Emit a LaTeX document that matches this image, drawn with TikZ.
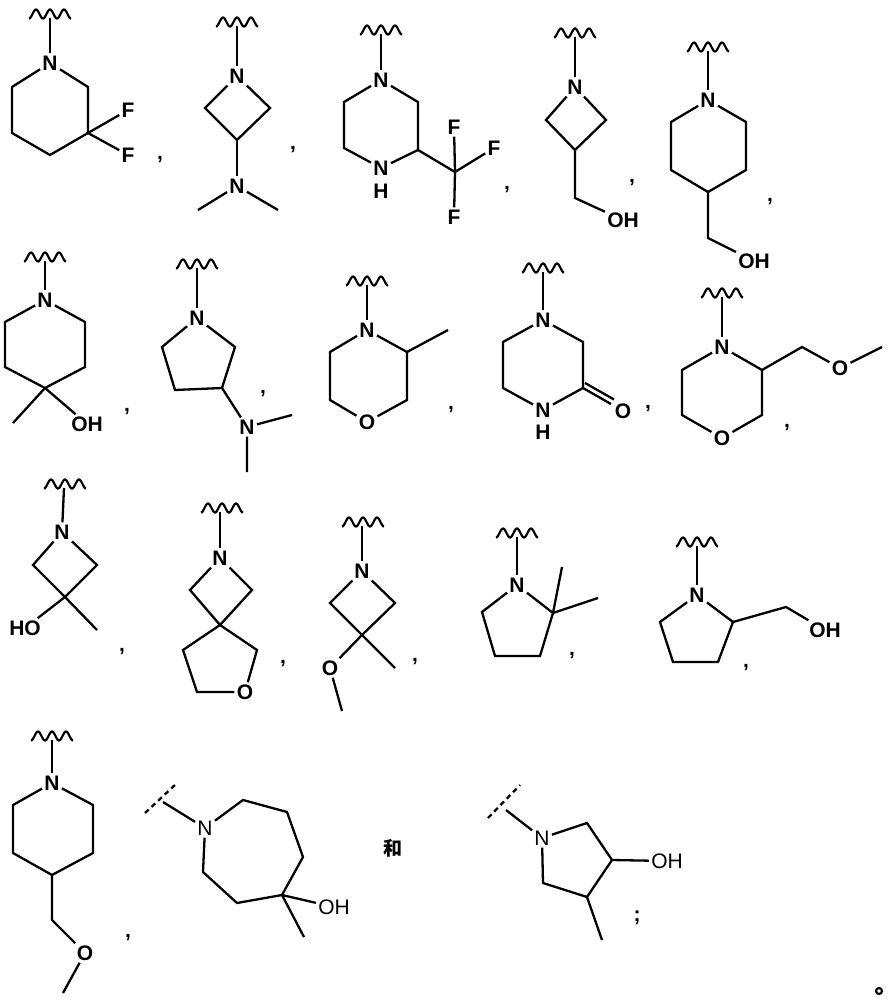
\documentclass[tikz,border=0pt]{standalone}
\usepackage{fontspec}
\setmainfont{Liberation Sans}
\newfontfamily\cjk{Noto Sans CJK SC}
\begin{document}
\begin{tikzpicture}[x=1pt,y=-1pt,line width=2.3pt,
  atom/.style={font=\bfseries\fontsize{21}{21}\selectfont,inner sep=1.2pt},
  latom/.style={font=\fontsize{21}{21}\selectfont,inner sep=1.2pt},
  punct/.style={font=\bfseries\fontsize{21}{21}\selectfont,inner sep=0pt},
  cut/.style={dashed,dash pattern=on 5pt off 4pt,line width=2.3pt}]
\useasboundingbox (0,0) rectangle (888,1000);
\newcommand\wv[2]{\draw[line width=2.2pt,shift={(#1,#2)}] plot[domain=-21:21,samples=60,smooth] (\x,{-4.5*cos(\x*360/14)});}
% ---------- 1
\wv{50}{14}
\node[atom] (a1) at (50,63) {N};
\draw (50,18) -- (a1);
\node[atom] (a1f1) at (128,110) {F};
\node[atom] (a1f2) at (128,155) {F};
\draw (a1) -- (88,87) -- (88,133) -- (50,155) -- (12,133) -- (12,87) -- (a1);
\draw (a1f1) -- (88,133) -- (a1f2);
\node[punct] (c1) at (160,160) {,};
% ---------- 2
\wv{237}{22}
\node[atom] (a2) at (237,76) {N};
\node[atom] (a2n) at (237,186) {N};
\draw (237,26) -- (a2);
\draw (a2) -- (270,108) -- (237,140) -- (205,108) -- (a2);
\draw (237,140) -- (a2n);
\draw (198,210) -- (a2n) -- (278,210);
\node[punct] (c2) at (293,150) {,};
% ---------- 3
\wv{381}{30}
\node[atom] (a3) at (381,80) {N};
\node[atom] (a3n) at (381,168) {N};
\node[atom] (a3h) at (381,191) {H};
\node[atom] (a3f1) at (454,127) {F};
\node[atom] (a3f2) at (494,148) {F};
\node[atom] (a3f3) at (454,217) {F};
\draw (381,34) -- (a3);
\draw (a3) -- (418,102) -- (418,150) -- (a3n) -- (344,148) -- (344,102) -- (a3);
\draw (418,150) -- (455,172);
\draw (a3f1) -- (455,172) -- (a3f2);
\draw (455,172) -- (a3f3);
\node[punct] (c3) at (507,190) {,};
% ---------- 4
\wv{575}{33}
\node[atom] (a4) at (575,87) {N};
\node[atom] (a4o) at (623,220) {OH};
\draw (575,37) -- (a4);
\draw (a4) -- (606,120) -- (575,150) -- (546,120) -- (a4);
\draw (575,150) -- (575,198) -- (a4o);
\node[punct] (c4) at (632,183) {,};
% ---------- 5
\wv{708}{47}
\node[atom] (a5) at (708,100) {N};
\node[atom] (a5o) at (754,261) {OH};
\draw (708,51) -- (a5);
\draw (a5) -- (746,122) -- (746,170) -- (708,192) -- (671,170) -- (671,122) -- (a5);
\draw (708,192) -- (708,238) -- (a5o);
\node[punct] (c5) at (770,202) {,};
% ---------- 6
\wv{45}{257}
\node[atom] (a6) at (45,300) {N};
\node[atom] (a6o) at (87,424) {OH};
\draw (45,261) -- (a6);
\draw (a6) -- (85,322) -- (85,367) -- (45,388) -- (5,367) -- (5,322) -- (a6);
\draw (45,388) -- (13,423);
\draw (45,388) -- (a6o);
\node[punct] (c6) at (127,412) {,};
% ---------- 7
\wv{197}{264}
\node[atom] (a7) at (197,318) {N};
\node[atom] (a7n) at (247,427) {N};
\draw (197,268) -- (a7);
\draw (a7) -- (235,347) -- (222,388) -- (175,390) -- (162,347) -- (a7);
\draw (222,388) -- (a7n);
\draw (292,415) -- (a7n) -- (247,472);
\node[punct] (c7) at (263,394) {,};
% ---------- 8
\wv{367}{281}
\node[atom] (a8) at (367,330) {N};
\node[atom] (a8o) at (367,422) {O};
\draw (367,285) -- (a8);
\draw (a8) -- (407,352) -- (407,400) -- (a8o) -- (330,400) -- (330,352) -- (a8);
\draw (407,352) -- (448,330);
\node[punct] (c8) at (451,410) {,};
% ---------- 9
\wv{543}{268}
\node[atom] (a9) at (543,320) {N};
\node[atom] (a9n) at (543,410) {N};
\node[atom] (a9h) at (543,432) {H};
\node[atom] (a9o) at (623,411) {O};
\draw (543,272) -- (a9);
\draw (a9) -- (583,342) -- (583,388) -- (a9n) -- (503,388) -- (503,342) -- (a9);
\draw (583,388) -- (611,404);
\draw (585,383) -- (614,399.5);
\node[punct] (c9) at (648,409) {,};
% ---------- 10
\wv{722}{293}
\node[atom] (a10) at (722,347) {N};
\node[atom] (a10o) at (722,438) {O};
\node[atom] (a10m) at (840,368) {O};
\draw (722,297) -- (a10);
\draw (a10) -- (762,370) -- (762,415) -- (a10o) -- (682,415) -- (682,370) -- (a10);
\draw (762,370) -- (802,347) -- (a10m) -- (882,347);
\node[punct] (c10) at (787,428) {,};
% ---------- 11
\wv{65}{484}
\node[atom] (a11) at (62,532) {N};
\node[atom] (a11o) at (25,628) {HO};
\draw (64,488) -- (a11);
\draw (a11) -- (97,565) -- (65,597) -- (33,565) -- (a11);
\draw (65,597) -- (97,630);
\draw (65,597) -- (a11o);
\node[punct] (c11) at (122,652) {,};
% ---------- 12
\wv{222}{508}
\node[atom] (a12) at (220,558) {N};
\node[atom] (a12o) at (245,692) {O};
\draw (220,512) -- (a12);
\draw (a12) -- (252,590) -- (220,625) -- (190,590) -- (a12);
\draw (220,625) -- (257,650) -- (a12o) -- (197,692) -- (183,650) -- (220,625);
\node[punct] (c12) at (283,664) {,};
% ---------- 13
\wv{363}{522}
\node[atom] (a13) at (362,571) {N};
\node[atom] (a13o) at (330,668) {O};
\draw (362,526) -- (a13);
\draw (a13) -- (395,603) -- (362,635) -- (330,603) -- (a13);
\draw (362,635) -- (395,668);
\draw (362,635) -- (a13o) -- (342,711);
\node[punct] (c13) at (415,662) {,};
% ---------- 14
\wv{517}{533}
\node[atom] (a14) at (517,585) {N};
\draw (517,537) -- (a14);
\draw (a14) -- (553,613) -- (540,656) -- (495,656) -- (482,612) -- (a14);
\draw (553,613) -- (562,567);
\draw (553,613) -- (598,598);
\node[punct] (c14) at (572,656) {,};
% ---------- 15
\wv{697}{542}
\node[atom] (a15) at (697,595) {N};
\node[atom] (a15o) at (825,630) {OH};
\draw (697,546) -- (a15);
\draw (a15) -- (733,622) -- (718,662) -- (673,662) -- (660,622) -- (a15);
\draw (733,622) -- (786,607) -- (a15o);
\node[punct] (c15) at (746,668) {,};
% ---------- 16
\wv{52}{736}
\node[atom] (a16) at (52,783) {N};
\node[atom] (a16o) at (85,953) {O};
\draw (52,740) -- (a16);
\draw (a16) -- (93,805) -- (93,853) -- (52,875) -- (13,853) -- (13,805) -- (a16);
\draw (52,875) -- (52,920) -- (a16o) -- (63,993);
\node[punct] (c16) at (128,938) {,};
% ---------- 17
\coordinate (d17) at (163,802);
\draw[cut] (145,813) -- (176,784);
\node[latom] (a17) at (205,828) {N};
\node[latom] (a17o) at (334,907) {OH};
\draw (d17) -- (a17);
\draw (a17) -- (243,800) -- (287,812) -- (303,857) -- (282,895) -- (237,903) -- (203,872) -- (a17);
\draw (282,895) -- (a17o);
\draw (282,895) -- (304,937);
\node[font=\cjk\bfseries\fontsize{19}{19}\selectfont] (he) at (393,848) {和};
% ---------- 18
\coordinate (d18) at (506,810);
\draw[cut] (488,818) -- (520,785);
\node[latom] (a18) at (542,838) {N};
\node[latom] (a18o) at (667,861) {OH};
\draw (d18) -- (a18);
\draw (a18) -- (587,823) -- (612,860) -- (587,897) -- (543,883) -- (a18);
\draw (612,860) -- (a18o);
\draw (587,897) -- (602,940);
\node[punct] (sc) at (637,918) {;};
\draw[line width=2.2pt] (879,991) circle (3);
\end{tikzpicture}
\end{document}
